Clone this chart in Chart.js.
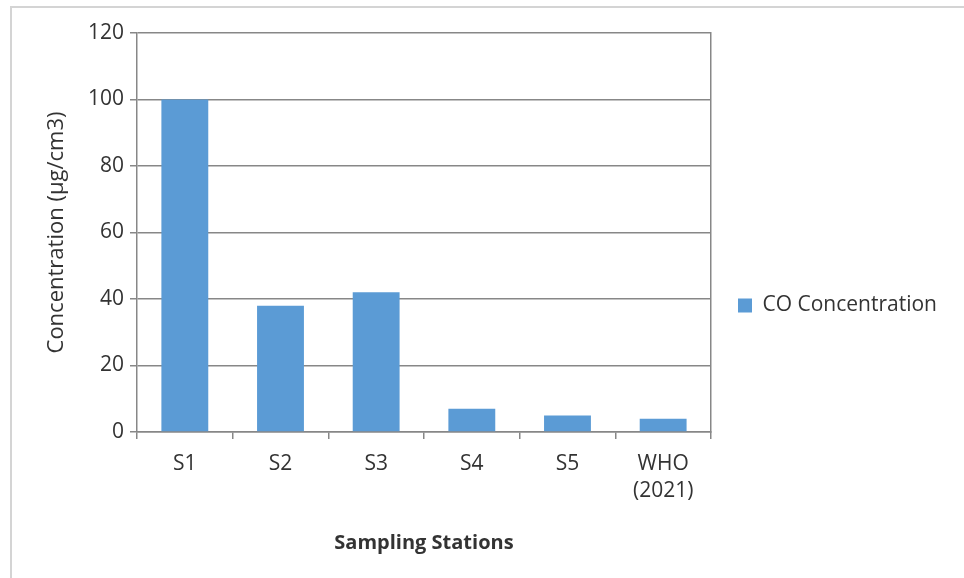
<!DOCTYPE html>
<html>
<head>
<meta charset="utf-8">
<script src="https://cdn.jsdelivr.net/npm/chart.js@4/dist/chart.umd.min.js"></script>
<style>
  html, body { margin: 0; padding: 0; background: #fff; }
  #moldura { position: absolute; left: 10px; top: 6px; width: 1000px; height: 1000px;
             border: 2px solid #d4d4d4; box-sizing: border-box; }
  #wrap { position: relative; width: 964px; height: 578px; overflow: hidden; }
  canvas { position: absolute; left: 0; top: 0; }
</style>
</head>
<body>
<div id="wrap">
  <div id="moldura"></div>
  <canvas id="grafico" width="964" height="578"></canvas>
</div>
<script>
// ─── Dados ────────────────────────────────────────────────────────────────────
const ESTACOES    = ['S1', 'S2', 'S3', 'S4', 'S5', ['WHO', '(2021)']];
const CONC_CO     = [100, 38, 42, 7, 5, 4];
const SERIE_NOME  = 'CO Concentration';
const EIXO_Y_MIN  = 0;
const EIXO_Y_MAX  = 120;
const EIXO_Y_PASSO = 20;

// ─── Estilo ───────────────────────────────────────────────────────────────────
const COR_BARRA = '#5b9bd5';
const COR_GRADE = '#878787';
const COR_TEXTO = '#333333';
const FONTE     = "'Open Sans', sans-serif";

const ctx = document.getElementById('grafico').getContext('2d');
new Chart(ctx, {
  type: 'bar',
  data: {
    labels: ESTACOES,
    datasets: [{
      label: SERIE_NOME,
      data: CONC_CO,
      backgroundColor: COR_BARRA,
      borderWidth: 0,
      categoryPercentage: 1,
      barPercentage: 0.49,
    }],
  },
  options: {
    responsive: false,
    animation: false,
    layout: { padding: { top: 33, left: 0, right: 17, bottom: 0 } },
    plugins: {
      tooltip: { enabled: false },
      legend: {
        position: 'right',
        maxWidth: 300,
        labels: {
          boxWidth: 14, boxHeight: 14, padding: 10,
          color: COR_TEXTO,
          font: { family: FONTE, size: 21 },
        },
      },
    },
    scales: {
      x: {
        grid: { drawOnChartArea: false, tickLength: 7, color: COR_GRADE, lineWidth: 1.5 },
        border: { color: COR_GRADE, width: 1.5 },
        ticks: { color: COR_TEXTO, padding: 11, font: { family: FONTE, size: 21, lineHeight: 1.3 } },
        title: {
          display: true, text: 'Sampling Stations', color: COR_TEXTO,
          font: { family: FONTE, size: 20, weight: 'bold', lineHeight: 1.2 },
          padding: { top: 0, bottom: 23 },
        },
        afterFit: s => { s.height = 146; },
      },
      y: {
        min: EIXO_Y_MIN, max: EIXO_Y_MAX,
        ticks: { stepSize: EIXO_Y_PASSO, color: COR_TEXTO, padding: 6, font: { family: FONTE, size: 21 } },
        grid: { tickLength: 7, color: COR_GRADE, lineWidth: 1.5 },
        border: { color: COR_GRADE, width: 1.5 },
        title: {
          display: true, text: 'Concentration (µg/cm3)', color: COR_TEXTO,
          font: { family: FONTE, size: 22, lineHeight: 1.2 },
          padding: { top: 44, bottom: 0 },
        },
        afterFit: s => { s.width = 137; },
      },
      yDir: {
        position: 'right',
        min: EIXO_Y_MIN, max: EIXO_Y_MAX,
        ticks: { display: false },
        grid: { drawOnChartArea: false, drawTicks: false },
        border: { color: COR_GRADE, width: 1.5 },
        afterFit: s => { s.width = 17; },
      },
    },
  },
});
</script>
</body>
</html>
